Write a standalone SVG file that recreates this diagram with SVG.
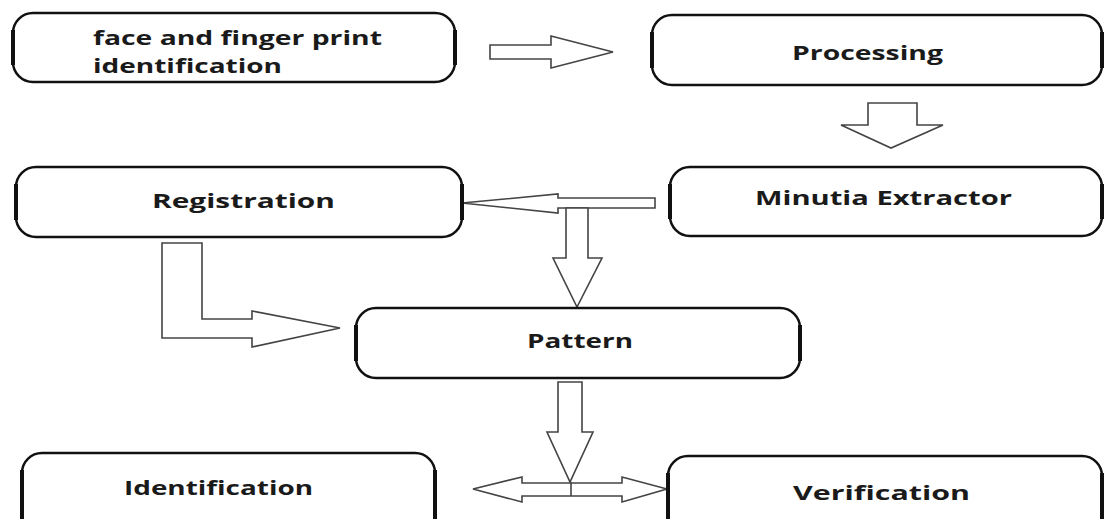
<svg xmlns="http://www.w3.org/2000/svg" width="1104" height="519" viewBox="0 0 1104 519">
<style>
.box{fill:#fff;stroke:#111;stroke-width:2.5}
.side{fill:none;stroke:#111;stroke-width:4}
.lbl{font-family:"Open Sans","Liberation Sans",sans-serif;font-weight:700;font-size:19px;fill:#1a1a1a}
.arr{fill:#fff;stroke:#444;stroke-width:1.6;stroke-linejoin:miter}
</style>
<rect width="1104" height="519" fill="#fff"/>
<g id="connectors">
<path class="arr" d="M490,45 H551 V36 L613,52 L551,68 V59 H490 Z"/>
<path class="arr" d="M868,103 H917 V125 H943 L891,148 L841,125 H868 Z"/>
<path class="arr" d="M655,198 V208 H558 V213 L462,203 L558,194 V198 Z"/>
<path class="arr" d="M566,208 H588 V258 H602 L577,307 L553,258 H566 Z"/>
<path class="arr" d="M162,243 H202 V319 H252 V311 L340,328 L252,347 V338 H162 Z"/>
<path class="arr" d="M558,382 H582 V432 H593 L570,482 L547,432 H558 Z"/>
<path class="arr" d="M522,483 V477 L473,489 L522,502 V496 H622 V502 L667,489 L622,477 V483 Z"/>
<line x1="571" y1="482" x2="571" y2="496" stroke="#444" stroke-width="1.6"/>
</g>
<g id="face">
<rect class="box" x="13" y="13" width="442" height="69" rx="20"/>
<path class="side" d="M13,30 V65 M455,30 V65"/>
<text class="lbl" x="93" y="45" textLength="289" lengthAdjust="spacingAndGlyphs">face and finger print</text>
<text class="lbl" x="93" y="73" textLength="189" lengthAdjust="spacingAndGlyphs">identification</text>
</g>
<g id="processing">
<rect class="box" x="652" y="15" width="450" height="70" rx="20"/>
<path class="side" d="M652,32 V68 M1102,32 V68"/>
<text class="lbl" x="792" y="60" textLength="151" lengthAdjust="spacingAndGlyphs">Processing</text>
</g>
<g id="minutia">
<rect class="box" x="670" y="167" width="432" height="69" rx="20"/>
<path class="side" d="M670,184 V219 M1102,184 V219"/>
<text class="lbl" x="755" y="205" textLength="257" lengthAdjust="spacingAndGlyphs">Minutia Extractor</text>
</g>
<g id="registration">
<rect class="box" x="16" y="167" width="446" height="70" rx="20"/>
<path class="side" d="M16,184 V220 M462,184 V220"/>
<text class="lbl" x="152" y="208" textLength="183" lengthAdjust="spacingAndGlyphs">Registration</text>
</g>
<g id="pattern">
<rect class="box" x="356" y="308" width="444" height="70" rx="20"/>
<path class="side" d="M356,325 V361 M800,325 V361"/>
<text class="lbl" x="527" y="348" textLength="106" lengthAdjust="spacingAndGlyphs">Pattern</text>
</g>
<g id="identification">
<rect class="box" x="22" y="453" width="413" height="90" rx="20"/>
<path class="side" d="M22,470 V530 M435,470 V530"/>
<text class="lbl" x="124" y="495" textLength="189" lengthAdjust="spacingAndGlyphs">Identification</text>
</g>
<g id="verification">
<rect class="box" x="668" y="456" width="434" height="90" rx="20"/>
<path class="side" d="M668,473 V530 M1102,473 V530"/>
<text class="lbl" x="793" y="500" textLength="177" lengthAdjust="spacingAndGlyphs">Verification</text>
</g>
</svg>
